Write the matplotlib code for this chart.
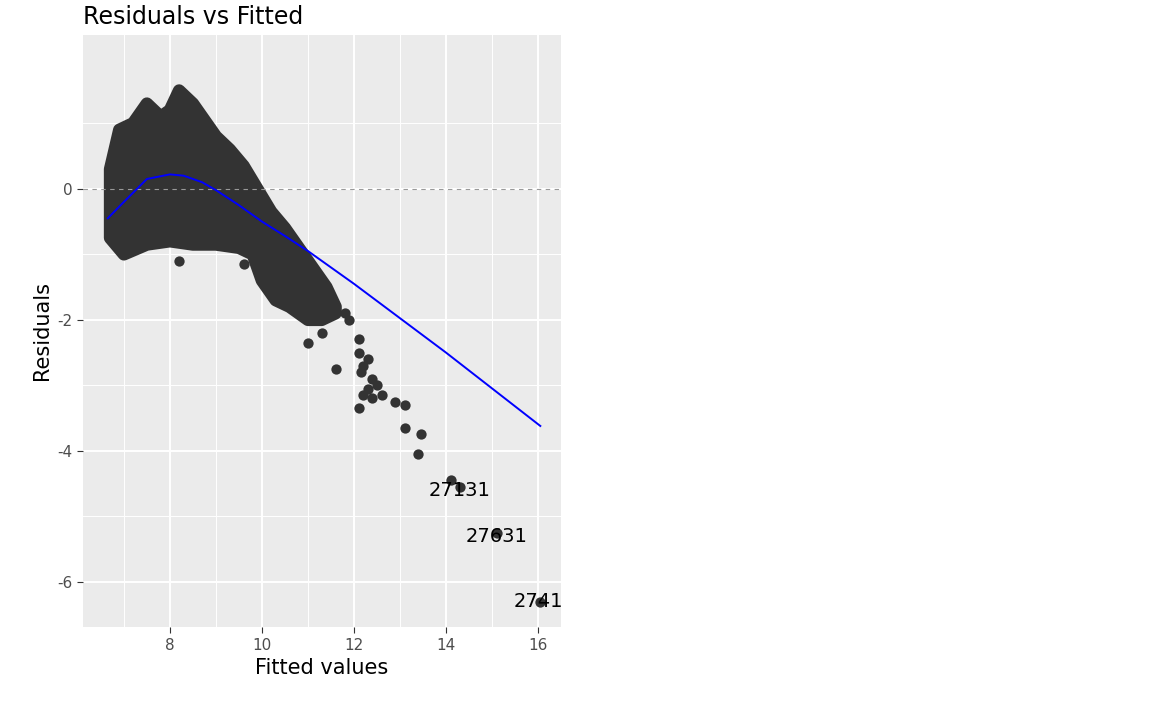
import matplotlib.pyplot as plt
import numpy as np

# envelope of the dense residual cloud
upper_x = [6.7, 6.9, 7.2, 7.5, 7.8, 8.0, 8.2, 8.5, 8.8, 9.0, 9.3, 9.6, 9.9, 10.2, 10.5, 10.8, 11.1, 11.4, 11.6]
upper_y = [0.3, 0.9, 1.0, 1.3, 1.1, 1.2, 1.5, 1.3, 1.0, 0.8, 0.6, 0.35, 0.0, -0.35, -0.6, -0.9, -1.2, -1.5, -1.8]
lower_x = [6.7, 7.0, 7.5, 8.0, 8.5, 9.0, 9.5, 9.8, 10.0, 10.3, 10.6, 11.0, 11.3, 11.6]
lower_y = [-0.75, -1.0, -0.85, -0.8, -0.85, -0.85, -0.9, -1.0, -1.4, -1.7, -1.8, -2.0, -2.0, -1.9]

# isolated points
pts_x = [8.2, 9.6, 11.0, 11.6, 11.3, 11.8, 11.9, 12.1, 12.1, 12.1, 12.15, 12.2, 12.2, 12.3, 12.3,
         12.4, 12.4, 12.5, 12.6, 12.9, 13.1, 13.1, 13.4, 13.45, 14.1, 14.3, 15.1, 16.05]
pts_y = [-1.1, -1.15, -2.35, -2.75, -2.2, -1.9, -2.0, -2.3, -2.5, -3.35, -2.8, -3.15, -2.7, -3.05, -2.6,
         -3.2, -2.9, -3.0, -3.15, -3.25, -3.3, -3.65, -4.05, -3.75, -4.45, -4.55, -5.25, -6.3]

# smoother
smooth_x = [6.65, 7.0, 7.5, 8.0, 8.3, 8.7, 9.0, 9.5, 10.0, 10.5, 11.0, 12.0, 14.0, 16.05]
smooth_y = [-0.45, -0.2, 0.15, 0.22, 0.2, 0.1, -0.02, -0.25, -0.5, -0.72, -0.95, -1.45, -2.5, -3.62]

labels = ["27131", "27631", "2741"]
label_x = [14.3, 15.1, 16.0]
label_y = [-4.6, -5.3, -6.3]

fig = plt.figure(figsize=(11.52, 7.11), dpi=100)
ax = fig.add_axes([0.072, 0.118, 0.415, 0.833])
ax.set_facecolor('#EBEBEB')
for s in ax.spines.values():
    s.set_visible(False)

ax.set_xlim(6.11, 16.5)
ax.set_ylim(-6.69, 2.35)
ax.set_xticks([8, 10, 12, 14, 16])
ax.set_yticks([-6, -4, -2, 0])
ax.set_yticklabels(['-6', '-4', '-2', '0'])
ax.set_xticks([7, 9, 11, 13, 15], minor=True)
ax.set_yticks([-5, -3, -1, 1], minor=True)
ax.grid(True, which='major', color='white', linewidth=1.4)
ax.grid(True, which='minor', color='white', linewidth=0.7)
ax.set_axisbelow(True)
ax.tick_params(which='major', colors='#333333', labelcolor='#4D4D4D', labelsize=11, length=4)
ax.tick_params(which='minor', length=0)

col = '#333333'
poly_x = upper_x + lower_x[::-1]
poly_y = upper_y + lower_y[::-1]
ax.fill(poly_x, poly_y, color=col, linewidth=9, edgecolor=col, joinstyle='round', zorder=2)
ax.scatter(pts_x, pts_y, s=55, color=col, zorder=3, linewidths=0)

ax.axhline(0, color='#999999', linestyle=(0, (4, 4)), linewidth=0.8, zorder=4)
ax.plot(smooth_x, smooth_y, color='blue', linewidth=1.4, zorder=5)

for t, x, y in zip(labels, label_x, label_y):
    ax.text(x, y, t, ha='center', va='center', fontsize=14, color='black', zorder=6)

ax.set_xlabel('Fitted values', fontsize=15)
ax.set_ylabel('Residuals', fontsize=15)
ax.set_title('Residuals vs Fitted', fontsize=17, loc='left', x=0.0, pad=8)

fig.savefig('out.png', dpi=100)
